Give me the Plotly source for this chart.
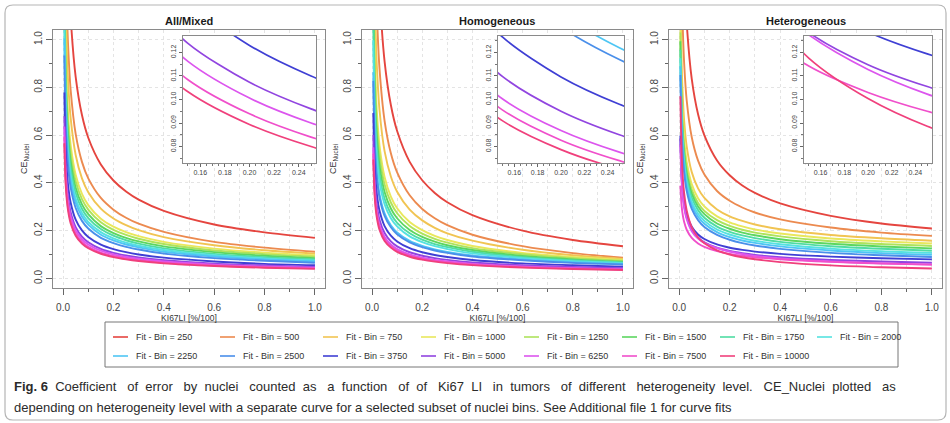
import plotly.graph_objects as go

# ---------------------------------------------------------------- data
ki67 = [0.005, 0.01, 0.015, 0.02, 0.03, 0.05, 0.075, 0.1, 0.15, 0.2, 0.25, 0.3, 0.4, 0.6, 0.8, 1.0]

bins = [250, 500, 750, 1000, 1250, 1500, 1750, 2000, 2250, 2500, 3750, 5000, 6250, 7500, 10000]

line_colors = ["#e5453f", "#ec8a4f", "#f1c452", "#e9e75c", "#aee35c", "#5cd660", "#4fdca3", "#55e2e0",
               "#4ec6f4", "#4a8fea", "#3f3fd4", "#9145e0", "#dc55ee", "#f04fcb", "#f0407c"]

panel_titles = ["All/Mixed", "Homogeneous", "Heterogeneous"]

# CE_Nuclei per nuclei bin (rows follow `bins`, columns follow `ki67`)
ce_mixed = [
    [2.72, 1.916, 1.560, 1.348, 1.096, 0.844, 0.684, 0.589, 0.477, 0.410, 0.364, 0.330, 0.283, 0.226, 0.193, 0.170],
    [1.978, 1.39, 1.129, 0.974, 0.790, 0.605, 0.488, 0.419, 0.337, 0.288, 0.254, 0.229, 0.195, 0.153, 0.129, 0.112],
    [1.668, 1.175, 0.957, 0.826, 0.672, 0.517, 0.419, 0.361, 0.292, 0.251, 0.223, 0.202, 0.173, 0.139, 0.118, 0.104],
    [1.372, 0.970, 0.792, 0.686, 0.560, 0.434, 0.354, 0.307, 0.250, 0.217, 0.194, 0.177, 0.153, 0.125, 0.108, 0.097],
    [1.287, 0.910, 0.743, 0.643, 0.525, 0.407, 0.332, 0.288, 0.235, 0.203, 0.182, 0.166, 0.144, 0.117, 0.102, 0.091],
    [1.202, 0.850, 0.694, 0.601, 0.491, 0.380, 0.310, 0.269, 0.219, 0.190, 0.170, 0.155, 0.134, 0.110, 0.095, 0.085],
    [1.131, 0.800, 0.653, 0.566, 0.462, 0.358, 0.292, 0.253, 0.207, 0.179, 0.160, 0.146, 0.126, 0.103, 0.089, 0.080],
    [1.061, 0.750, 0.612, 0.530, 0.433, 0.335, 0.274, 0.237, 0.194, 0.168, 0.150, 0.137, 0.119, 0.097, 0.084, 0.075],
    [1.004, 0.710, 0.580, 0.502, 0.410, 0.318, 0.259, 0.225, 0.183, 0.159, 0.142, 0.130, 0.112, 0.092, 0.079, 0.071],
    [0.933, 0.660, 0.539, 0.467, 0.381, 0.295, 0.241, 0.209, 0.170, 0.148, 0.132, 0.121, 0.104, 0.085, 0.074, 0.066],
    [0.778, 0.550, 0.449, 0.389, 0.318, 0.246, 0.201, 0.1739, 0.1420, 0.1230, 0.1100, 0.1004, 0.087, 0.071, 0.061, 0.055],
    [0.679, 0.480, 0.392, 0.339, 0.277, 0.215, 0.175, 0.1518, 0.1239, 0.1073, 0.0960, 0.0876, 0.076, 0.062, 0.054, 0.048],
    [0.636, 0.450, 0.367, 0.318, 0.260, 0.201, 0.164, 0.1423, 0.1162, 0.1006, 0.0900, 0.0822, 0.071, 0.058, 0.050, 0.045],
    [0.594, 0.420, 0.343, 0.297, 0.243, 0.188, 0.153, 0.1328, 0.1084, 0.0939, 0.0840, 0.0767, 0.066, 0.054, 0.047, 0.042],
    [0.566, 0.400, 0.327, 0.283, 0.231, 0.179, 0.146, 0.1265, 0.1033, 0.0894, 0.0800, 0.0730, 0.063, 0.052, 0.045, 0.040],
]

ce_homog = [
    [3.066, 2.142, 1.733, 1.489, 1.200, 0.909, 0.726, 0.617, 0.488, 0.411, 0.358, 0.319, 0.265, 0.200, 0.161, 0.135],
    [2.255, 1.572, 1.269, 1.089, 0.875, 0.660, 0.524, 0.444, 0.348, 0.291, 0.252, 0.223, 0.183, 0.135, 0.106, 0.087],
    [1.790, 1.252, 1.013, 0.871, 0.703, 0.533, 0.427, 0.363, 0.288, 0.243, 0.212, 0.189, 0.158, 0.120, 0.097, 0.082],
    [1.392, 0.978, 0.795, 0.685, 0.555, 0.425, 0.343, 0.294, 0.236, 0.202, 0.178, 0.161, 0.136, 0.107, 0.090, 0.078],
    [1.283, 0.902, 0.733, 0.633, 0.513, 0.393, 0.318, 0.273, 0.220, 0.188, 0.166, 0.150, 0.127, 0.101, 0.085, 0.074],
    [1.174, 0.826, 0.672, 0.580, 0.471, 0.362, 0.293, 0.252, 0.203, 0.174, 0.154, 0.139, 0.119, 0.094, 0.080, 0.070],
    [1.079, 0.760, 0.619, 0.534, 0.435, 0.334, 0.271, 0.233, 0.189, 0.162, 0.144, 0.131, 0.112, 0.089, 0.076, 0.067],
    [0.997, 0.703, 0.573, 0.495, 0.403, 0.311, 0.252, 0.218, 0.176, 0.152, 0.135, 0.123, 0.105, 0.085, 0.072, 0.064],
    [0.863, 0.610, 0.498, 0.431, 0.352, 0.273, 0.223, 0.193, 0.1575, 0.1364, 0.1220, 0.1114, 0.096, 0.079, 0.068, 0.061],
    [0.827, 0.585, 0.478, 0.414, 0.338, 0.262, 0.214, 0.185, 0.1510, 0.1308, 0.1170, 0.1068, 0.092, 0.076, 0.065, 0.0585],
    [0.693, 0.490, 0.400, 0.346, 0.283, 0.219, 0.179, 0.1549, 0.1265, 0.1096, 0.0980, 0.0895, 0.077, 0.063, 0.055, 0.049],
    [0.601, 0.425, 0.347, 0.301, 0.245, 0.190, 0.155, 0.1344, 0.1097, 0.0950, 0.0850, 0.0776, 0.067, 0.055, 0.048, 0.0425],
    [0.549, 0.388, 0.317, 0.274, 0.224, 0.174, 0.142, 0.1227, 0.1002, 0.0868, 0.0776, 0.0708, 0.061, 0.050, 0.043, 0.0388],
    [0.523, 0.370, 0.302, 0.262, 0.214, 0.165, 0.135, 0.1170, 0.0955, 0.0827, 0.0740, 0.0676, 0.0585, 0.0478, 0.0414, 0.037],
    [0.498, 0.352, 0.287, 0.249, 0.203, 0.157, 0.129, 0.1113, 0.0909, 0.0787, 0.0704, 0.0643, 0.0557, 0.0454, 0.0394, 0.0352],
]

ce_heter = [
    [2.580, 1.833, 1.502, 1.304, 1.070, 0.835, 0.687, 0.599, 0.494, 0.432, 0.389, 0.358, 0.314, 0.262, 0.230, 0.209],
    [1.742, 1.249, 1.031, 0.900, 0.746, 0.591, 0.493, 0.435, 0.366, 0.325, 0.297, 0.276, 0.247, 0.213, 0.192, 0.178],
    [1.245, 0.902, 0.751, 0.660, 0.553, 0.445, 0.377, 0.337, 0.289, 0.260, 0.241, 0.226, 0.206, 0.182, 0.168, 0.158],
    [1.090, 0.792, 0.660, 0.582, 0.489, 0.395, 0.336, 0.301, 0.260, 0.235, 0.218, 0.205, 0.188, 0.167, 0.155, 0.146],
    [1.030, 0.748, 0.623, 0.549, 0.461, 0.372, 0.316, 0.283, 0.244, 0.220, 0.204, 0.192, 0.176, 0.156, 0.144, 0.136],
    [0.993, 0.720, 0.599, 0.527, 0.441, 0.355, 0.301, 0.269, 0.230, 0.208, 0.192, 0.181, 0.164, 0.145, 0.134, 0.126],
    [0.957, 0.692, 0.575, 0.505, 0.422, 0.338, 0.286, 0.254, 0.217, 0.195, 0.180, 0.169, 0.153, 0.135, 0.124, 0.116],
    [0.922, 0.665, 0.551, 0.483, 0.403, 0.322, 0.271, 0.241, 0.205, 0.184, 0.169, 0.158, 0.143, 0.125, 0.114, 0.107],
    [0.888, 0.639, 0.529, 0.463, 0.385, 0.307, 0.258, 0.229, 0.194, 0.173, 0.159, 0.149, 0.134, 0.117, 0.106, 0.099],
    [0.852, 0.612, 0.506, 0.442, 0.367, 0.291, 0.244, 0.215, 0.182, 0.162, 0.148, 0.138, 0.124, 0.107, 0.097, 0.090],
    [0.598, 0.435, 0.362, 0.319, 0.268, 0.217, 0.184, 0.1652, 0.1423, 0.1287, 0.1194, 0.1125, 0.103, 0.0915, 0.0846, 0.080],
    [0.585, 0.4215, 0.349, 0.306, 0.255, 0.203, 0.171, 0.1514, 0.1285, 0.1148, 0.1055, 0.0986, 0.089, 0.0775, 0.0707, 0.066],
    [0.560, 0.405, 0.338, 0.297, 0.249, 0.198, 0.167, 0.1490, 0.1275, 0.1128, 0.1023, 0.0946, 0.0837, 0.0709, 0.0632, 0.058],
    [0.3886, 0.3028, 0.2617, 0.2359, 0.2039, 0.1697, 0.1466, 0.1322, 0.1142, 0.1030, 0.0950, 0.0890, 0.0803, 0.0694, 0.0625, 0.0577],
    [0.763, 0.521, 0.417, 0.356, 0.285, 0.215, 0.172, 0.147, 0.1176, 0.1004, 0.0886, 0.0803, 0.0685, 0.0548, 0.0468, 0.0414],
]

main_ticks = [0.0, 0.2, 0.4, 0.6, 0.8, 1.0]
inset_x_ticks = [0.16, 0.18, 0.20, 0.22, 0.24]
inset_y_ticks = [0.08, 0.09, 0.10, 0.11, 0.12]

caption_words1 = ["Coefficient", "of", "error", "by", "nuclei", "counted", "as", "a", "function", "of", "of",
                  "Ki67", "LI", "in", "tumors", "of", "different", "heterogeneity", "level.", "CE_Nuclei",
                  "plotted", "as"]
caption_line2 = ("depending on heterogeneity level with a separate curve for a selected subset of nuclei bins. "
                 "See Additional file 1 for curve fits")

# ---------------------------------------------------------------- geometry (pixels)
W, H = 950, 423
FONT = "Liberation Sans, Arial, sans-serif"


def fx(x):
    return x / W


def fy(y):
    return 1 - y / H


main_boxes = [(53, 325), (362, 633), (669, 942)]
inset_boxes = [(183, 316), (498, 624), (804, 932)]
MAIN_TOP, MAIN_BOTTOM = 30, 288
INSET_TOP, INSET_BOTTOM = 36, 163

fig = go.Figure()
layout_axes = {}
shapes = []
annotations = []

panels = [ce_mixed, ce_homog, ce_heter]
for p, panel in enumerate(panels):
    main_id = p + 1
    inset_id = p + 4
    for axis_id, width in ((main_id, 1.9), (inset_id, 1.7)):
        xa = "x" if axis_id == 1 else f"x{axis_id}"
        ya = "y" if axis_id == 1 else f"y{axis_id}"
        for vals, col, n in zip(panel, line_colors, bins):
            fig.add_trace(go.Scatter(
                x=ki67, y=vals, mode="lines", name=f"Fit - Bin = {n}",
                line=dict(color=col, width=width, shape="spline", smoothing=0.8),
                xaxis=xa, yaxis=ya, showlegend=False, hoverinfo="skip"))

    # main panel axes
    l, r = main_boxes[p]
    grid = dict(gridcolor="#e4e4e4", griddash="dot", gridwidth=1)
    layout_axes[f"xaxis{main_id}"] = dict(
        domain=[fx(l), fx(r)], range=[-0.04, 1.04], anchor=f"y{main_id}",
        tickvals=main_ticks, tickformat=".1f", ticks="outside", ticklen=6, tickcolor="#666",
        ticklabelstandoff=4,
        showline=True, mirror=True, linecolor="#8a8a8a", linewidth=1, zeroline=False,
        showgrid=True, **grid,
        minor=dict(dtick=0.1, tick0=0, ticks="outside", ticklen=3, tickcolor="#666", showgrid=True, **grid),
        tickfont=dict(size=10, color="#444", family=FONT),
        title=dict(text="KI67LI [%/100]", font=dict(size=8.5, color="#333", family=FONT), standoff=1),
    )
    layout_axes[f"yaxis{main_id}"] = dict(
        domain=[fy(MAIN_BOTTOM), fy(MAIN_TOP)], range=[-0.04, 1.04], anchor=f"x{main_id}",
        tickvals=main_ticks, tickformat=".1f", tickangle=-90, ticks="outside", ticklen=6, tickcolor="#666",
        showline=True, mirror=True, linecolor="#8a8a8a", linewidth=1, zeroline=False,
        showgrid=True, **grid,
        minor=dict(dtick=0.1, tick0=0, ticks="outside", ticklen=3, tickcolor="#666", showgrid=False),
        tickfont=dict(size=10, color="#444", family=FONT),
        title=dict(text="CE<sub>Nuclei</sub>", font=dict(size=9, color="#333", family=FONT), standoff=3),
    )

    # inset axes
    il, ir = inset_boxes[p]
    layout_axes[f"xaxis{inset_id}"] = dict(
        domain=[fx(il), fx(ir)], range=[0.146, 0.254], anchor=f"y{inset_id}",
        tickvals=inset_x_ticks, tickformat=".2f", ticks="outside", ticklen=3, tickcolor="#666",
        showline=True, mirror=True, linecolor="#8a8a8a", linewidth=1, zeroline=False, showgrid=False,
        minor=dict(dtick=0.005, tick0=0.15, ticks="outside", ticklen=2, tickcolor="#777"),
        tickfont=dict(size=7, color="#444", family=FONT),
    )
    layout_axes[f"yaxis{inset_id}"] = dict(
        domain=[fy(INSET_BOTTOM), fy(INSET_TOP)], range=[0.073, 0.127], anchor=f"x{inset_id}",
        tickvals=inset_y_ticks, tickformat=".2f", tickangle=-90, ticks="outside", ticklen=3, tickcolor="#666",
        showline=True, mirror=True, linecolor="#8a8a8a", linewidth=1, zeroline=False, showgrid=False,
        minor=dict(dtick=0.005, tick0=0.075, ticks="outside", ticklen=2, tickcolor="#777"),
        tickfont=dict(size=7, color="#444", family=FONT),
    )
    shapes.append(dict(type="line", xref=f"x{inset_id}", yref=f"y{inset_id} domain", x0=0.2, x1=0.2, y0=0, y1=1,
                       line=dict(color="#e4e4e4", width=1, dash="dot"), layer="below"))
    shapes.append(dict(type="line", xref=f"x{inset_id} domain", yref=f"y{inset_id}", x0=0, x1=1, y0=0.1, y1=0.1,
                       line=dict(color="#e4e4e4", width=1, dash="dot"), layer="below"))

    annotations.append(dict(text=f"<b>{panel_titles[p]}</b>", x=fx((l + r) / 2), y=fy(21), xref="paper", yref="paper",
                            showarrow=False, xanchor="center", yanchor="middle",
                            font=dict(size=11, color="#1a1a1a", family=FONT)))

# ---------------------------------------------------------------- legend box
LEG_L, LEG_R, LEG_T, LEG_B = 105, 898, 322, 367
shapes.append(dict(type="rect", xref="paper", yref="paper", x0=fx(LEG_L), x1=fx(LEG_R), y0=fy(LEG_B), y1=fy(LEG_T),
                   line=dict(color="#777", width=1), fillcolor="rgba(0,0,0,0)"))
col_x = [113, 220, 323, 421, 524, 622, 720, 817]
row_y = [337, 356]
for i, (n, col) in enumerate(zip(bins, line_colors)):
    x0 = col_x[i % 8]
    y0 = row_y[i // 8]
    shapes.append(dict(type="line", xref="paper", yref="paper", x0=fx(x0), x1=fx(x0 + 15), y0=fy(y0), y1=fy(y0),
                       line=dict(color=col, width=1.6)))
    annotations.append(dict(text=f"Fit - Bin = {n}", x=fx(x0 + 21), y=fy(y0), xref="paper", yref="paper",
                            showarrow=False, xanchor="left", yanchor="middle",
                            font=dict(size=9, color="#333", family=FONT)))

# ---------------------------------------------------------------- caption (first line justified) and card border
NBSP = "\u00a0"
gaps = [" " + NBSP * (1 + (k % 2)) for k in range(len(caption_words1))]
caption_line1 = "<b>Fig." + NBSP + "6</b>" + "".join(g + w for g, w in zip(gaps, caption_words1))
for text, yy in ((caption_line1, 386), (caption_line2, 407)):
    annotations.append(dict(text=text, x=fx(12), y=fy(yy), xref="paper", yref="paper", showarrow=False,
                            xanchor="left", yanchor="middle",
                            font=dict(size=13, color="#2b2b2b", family=FONT)))

R = 8
bx0, bx1, by0, by1 = 5, 946, 5, 420
path = (f"M {fx(bx0 + R)},{fy(by0)} L {fx(bx1 - R)},{fy(by0)} Q {fx(bx1)},{fy(by0)} {fx(bx1)},{fy(by0 + R)} "
        f"L {fx(bx1)},{fy(by1 - R)} Q {fx(bx1)},{fy(by1)} {fx(bx1 - R)},{fy(by1)} "
        f"L {fx(bx0 + R)},{fy(by1)} Q {fx(bx0)},{fy(by1)} {fx(bx0)},{fy(by1 - R)} "
        f"L {fx(bx0)},{fy(by0 + R)} Q {fx(bx0)},{fy(by0)} {fx(bx0 + R)},{fy(by0)} Z")
shapes.append(dict(type="path", xref="paper", yref="paper", path=path, line=dict(color="#b5b5b5", width=1.2)))

fig.update_layout(
    width=W, height=H, margin=dict(l=0, r=0, t=0, b=0),
    paper_bgcolor="white", plot_bgcolor="white",
    font=dict(family=FONT),
    showlegend=False, shapes=shapes, annotations=annotations,
    **layout_axes,
)

fig.write_html("out.html")
